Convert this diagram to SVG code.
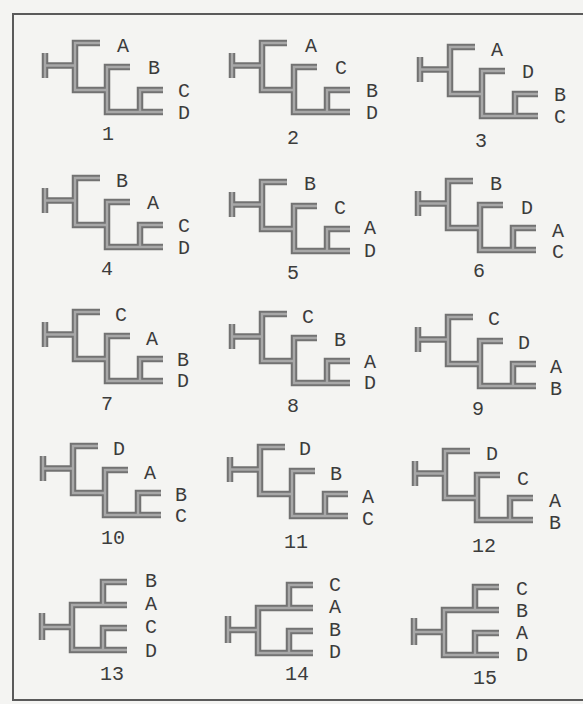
<svg xmlns="http://www.w3.org/2000/svg" xmlns:xlink="http://www.w3.org/1999/xlink" width="583" height="704" viewBox="0 0 583 704">
<style>
.bg{fill:#f4f4f2}
.frame{fill:none;stroke:#5a5a5a;stroke-width:2}
.outer{fill:none;stroke:#727272;stroke-width:6.5;stroke-linejoin:miter;stroke-linecap:butt}
.inner{fill:none;stroke:#a8a8a8;stroke-width:2.4;stroke-linejoin:miter;stroke-linecap:butt}
text{font-family:"Liberation Mono","DejaVu Sans Mono",monospace;font-size:20px;fill:#3c3c3c;text-anchor:middle}
</style>
<defs>
<path id="cat" d="M0,10 V35 M0,22.5 H30 M55,0 H30 V47 H62 M85,24 H62 V69 H118 M118,47 H95 V69"/>
<path id="bal" d="M0,31 V58 M0,45 H30 M85,0 H61 V23 M85,23 H30 V68 H85 M85,46 H61 V68"/>
</defs>
<rect class="bg" x="0" y="0" width="583" height="704"/>
<path class="frame" d="M583,14 H13 V700 H583"/>

<g id="t1" transform="translate(45,43)">
<use xlink:href="#cat" class="outer"/><use xlink:href="#cat" class="inner"/>
<text x="78" y="9">A</text><text x="109" y="31">B</text><text x="139" y="54">C</text><text x="139" y="76">D</text><text x="63" y="97">1</text>
</g>
<g id="t2" transform="translate(232,43)">
<use xlink:href="#cat" class="outer"/><use xlink:href="#cat" class="inner"/>
<text x="79" y="9">A</text><text x="109" y="31">C</text><text x="140" y="54">B</text><text x="140" y="76">D</text><text x="61" y="101">2</text>
</g>
<g id="t3" transform="translate(420,47)">
<use xlink:href="#cat" class="outer"/><use xlink:href="#cat" class="inner"/>
<text x="77" y="9">A</text><text x="108" y="31">D</text><text x="140" y="54">B</text><text x="140" y="76">C</text><text x="61" y="100">3</text>
</g>
<g id="t4" transform="translate(45,178)">
<use xlink:href="#cat" class="outer"/><use xlink:href="#cat" class="inner"/>
<text x="77" y="9">B</text><text x="108" y="31">A</text><text x="139" y="54">C</text><text x="139" y="76">D</text><text x="62" y="97">4</text>
</g>
<g id="t5" transform="translate(232,182)">
<use xlink:href="#cat" class="outer"/><use xlink:href="#cat" class="inner"/>
<text x="78" y="8">B</text><text x="108" y="32">C</text><text x="138" y="52">A</text><text x="138" y="75">D</text><text x="61" y="97">5</text>
</g>
<g id="t6" transform="translate(418,181)">
<use xlink:href="#cat" class="outer"/><use xlink:href="#cat" class="inner"/>
<text x="78" y="9">B</text><text x="109" y="33">D</text><text x="140" y="56">A</text><text x="140" y="77">C</text><text x="61" y="96">6</text>
</g>
<g id="t7" transform="translate(45,312)">
<use xlink:href="#cat" class="outer"/><use xlink:href="#cat" class="inner"/>
<text x="76" y="9">C</text><text x="107" y="33">A</text><text x="138" y="54">B</text><text x="138" y="75">D</text><text x="62" y="98">7</text>
</g>
<g id="t8" transform="translate(232,314)">
<use xlink:href="#cat" class="outer"/><use xlink:href="#cat" class="inner"/>
<text x="76" y="9">C</text><text x="108" y="32">B</text><text x="138" y="54">A</text><text x="138" y="75">D</text><text x="61" y="98">8</text>
</g>
<g id="t9" transform="translate(418,317)">
<use xlink:href="#cat" class="outer"/><use xlink:href="#cat" class="inner"/>
<text x="76" y="8">C</text><text x="106" y="32">D</text><text x="138" y="56">A</text><text x="138" y="78">B</text><text x="60" y="98">9</text>
</g>
<g id="t10" transform="translate(43,446)">
<use xlink:href="#cat" class="outer"/><use xlink:href="#cat" class="inner"/>
<text x="76" y="9">D</text><text x="107" y="33">A</text><text x="138" y="55">B</text><text x="138" y="76">C</text><text x="70" y="98">10</text>
</g>
<g id="t11" transform="translate(230,447)">
<use xlink:href="#cat" class="outer"/><use xlink:href="#cat" class="inner"/>
<text x="75" y="8">D</text><text x="106" y="33">B</text><text x="138" y="56">A</text><text x="138" y="78">C</text><text x="66" y="101">11</text>
</g>
<g id="t12" transform="translate(415,451)">
<use xlink:href="#cat" class="outer"/><use xlink:href="#cat" class="inner"/>
<text x="77" y="9">D</text><text x="108" y="34">C</text><text x="140" y="56">A</text><text x="140" y="78">B</text><text x="69" y="101">12</text>
</g>
<g id="t13" transform="translate(42,582)">
<use xlink:href="#bal" class="outer"/><use xlink:href="#bal" class="inner"/>
<text x="109" y="5">B</text><text x="109" y="28">A</text><text x="109" y="51">C</text><text x="109" y="75">D</text><text x="70" y="98">13</text>
</g>
<g id="t14" transform="translate(228,585)">
<use xlink:href="#bal" class="outer"/><use xlink:href="#bal" class="inner"/>
<text x="107" y="6">C</text><text x="107" y="28">A</text><text x="107" y="51">B</text><text x="107" y="73">D</text><text x="69" y="95">14</text>
</g>
<g id="t15" transform="translate(414,587)">
<use xlink:href="#bal" class="outer"/><use xlink:href="#bal" class="inner"/>
<text x="108" y="8">C</text><text x="108" y="30">B</text><text x="108" y="52">A</text><text x="108" y="74">D</text><text x="71" y="97">15</text>
</g>
</svg>
